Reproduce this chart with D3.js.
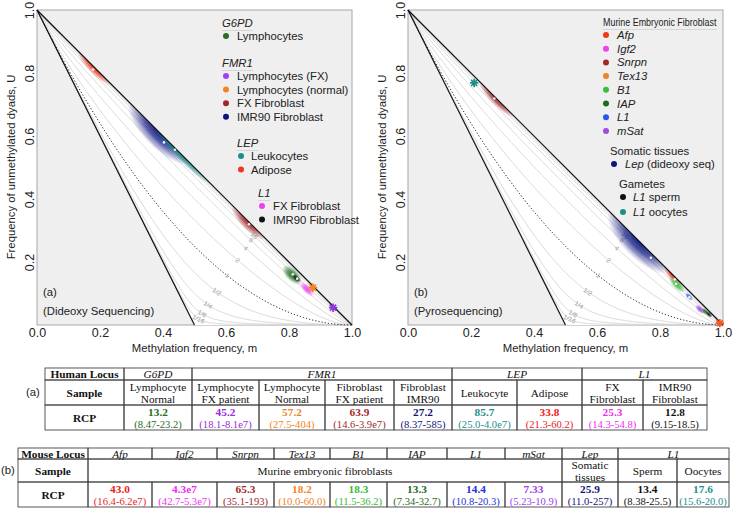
<!DOCTYPE html>
<html><head><meta charset="utf-8">
<script src="https://cdn.jsdelivr.net/npm/d3@7"></script>
<style>body{margin:0;background:#fff}svg{display:block}</style>
</head><body>
<svg id="c" width="735" height="509"></svg>
<script>
// ---------------- data ----------------
const xTicks = [0, 0.2, 0.4, 0.6, 0.8, 1.0];
const yTicks = [0.2, 0.4, 0.6, 0.8, 1.0];
// RCP contour levels (RCP = 2*sqrt(M*U)/H)
const rcpLevels = [1/16, 1/8, 1/4, 1/2, 1, 2, 4, 8, 16, 32, 64, 128];
const rcpLabelLevels = [1/16, 1/8, 1/4, 1/2, 1, 2, 4, 8, 16];
const rcpLabelText = ["1/16", "1/8", "1/4", "1/2", "1", "2", "4", "8", "16"];

// panel (a): point estimates (methylation m, RCP from the table)
const aPointName = ["Adipose", "IMR90 Fibroblast FMR1", "Leukocytes", "FX Fibroblast FMR1", "Lymphocytes G6PD", "FX Fibroblast L1", "IMR90 Fibroblast L1"];
const aPointM   = [0.178, 0.403, 0.438, 0.673, 0.812, 0.852, 0.826];
const aPointRCP = [33.8, 27.2, 85.7, 63.9, 13.2, 25.3, 12.8];
const aStarName = ["Lymphocytes normal", "Lymphocytes FX"];
const aStarM   = [0.876, 0.940];
const aStarRCP = [57.2, 45.2];
const aStarCol = ["#f08424", "#8e3ad8"];
// panel (a): posterior clouds (centre m, centre U, half-length, half-width in m units)
const aBlobM   = [0.184, 0.390, 0.463, 0.673, 0.810, 0.824, 0.857, 0.874, 0.938];
const aBlobU   = [0.816, 0.610, 0.537, 0.327, 0.159, 0.148, 0.114, 0.126, 0.062];
const aBlobLen = [0.075, 0.135, 0.130, 0.075, 0.040, 0.016, 0.030, 0.015, 0.015];
const aBlobWid = [0.020, 0.048, 0.018, 0.026, 0.020, 0.009, 0.013, 0.010, 0.010];
const aBlobCol = ["#f0361c", "#0c1480", "#1b8f8c", "#a3272a", "#257025", "#111111", "#f040ee", "#f08424", "#8e3ad8"];

// panel (b)
const bPointName = ["Snrpn", "Lep", "Afp", "B1", "L1"];
const bPointM   = [0.274, 0.771, 0.847, 0.851, 0.893];
const bPointRCP = [65.3, 25.9, 43.0, 18.3, 14.4];
const bStarName = ["L1 oocytes", "Tex13"];
const bStarM   = [0.210, 0.990];
const bStarRCP = [17.6, 18.2];
const bStarCol = ["#1b8f8c", "#f05a22"];
const bBlobM   = [0.283, 0.735, 0.844, 0.854, 0.892, 0.927, 0.943, 0.955, 0.985];
const bBlobU   = [0.717, 0.265, 0.156, 0.128, 0.090, 0.050, 0.043, 0.034, 0.012];
const bBlobLen = [0.078, 0.135, 0.040, 0.034, 0.016, 0.020, 0.014, 0.014, 0.010];
const bBlobWid = [0.020, 0.052, 0.016, 0.014, 0.008, 0.010, 0.008, 0.007, 0.008];
const bBlobCol = ["#a3272a", "#0c1480", "#e8301e", "#3dbb3d", "#2a55ee", "#a04ce0", "#1d6b1d", "#111111", "#f040ee"];

// legends
const aLegendGroups = [
  {title: "G6PD", items: ["Lymphocytes"], colors: ["#257025"]},
  {title: "FMR1", items: ["Lymphocytes (FX)", "Lymphocytes (normal)", "FX Fibroblast", "IMR90 Fibroblast"], colors: ["#a040f0", "#f08424", "#a3272a", "#0c1480"]},
  {title: "LEP", items: ["Leukocytes", "Adipose"], colors: ["#1b8f8c", "#f0361c"]},
  {title: "L1", items: ["FX Fibroblast", "IMR90 Fibroblast"], colors: ["#f040ee", "#111111"]}
];
const bLegendMEF = ["Afp", "Igf2", "Snrpn", "Tex13", "B1", "IAP", "L1", "mSat"];
const bLegendMEFCol = ["#f0361c", "#f040ee", "#a3272a", "#f08424", "#3dbb3d", "#1d6b1d", "#2a55ee", "#a04ce0"];

// tables
const tAHeader = ["G6PD", "FMR1", "LEP", "L1"];
const tAHeaderSpan = [1, 4, 2, 2];
const tASample = [["Lymphocyte", "Normal"], ["Lymphocyte", "FX patient"], ["Lymphocyte", "Normal"], ["Fibroblast", "FX patient"], ["Fibroblast", "IMR90"], ["Leukocyte"], ["Adipose"], ["FX", "Fibroblast"], ["IMR90", "Fibroblast"]];
const tARCP = ["13.2", "45.2", "57.2", "63.9", "27.2", "85.7", "33.8", "25.3", "12.8"];
const tACI = ["(8.47-23.2)", "(18.1-8.1e7)", "(27.5-404)", "(14.6-3.9e7)", "(8.37-585)", "(25.0-4.0e7)", "(21.3-60.2)", "(14.3-54.8)", "(9.15-18.5)"];
const tACol = ["#1e6e1e", "#9a2be0", "#f08424", "#a3272a", "#12127a", "#1b8f8c", "#f0201a", "#f030ee", "#111111"];

const tBHeader = ["Afp", "Igf2", "Snrpn", "Tex13", "B1", "IAP", "L1", "mSat", "Lep", "L1"];
const tBHeaderSpan = [1, 1, 1, 1, 1, 1, 1, 1, 1, 2];
const tBSample = [["Murine embryonic fibroblasts"], ["Somatic", "tissues"], ["Sperm"], ["Oocytes"]];
const tBSampleSpan = [8, 1, 1, 1];
const tBRCP = ["43.0", "4.3e7", "65.3", "18.2", "18.3", "13.3", "14.4", "7.33", "25.9", "13.4", "17.6"];
const tBCI = ["(16.4-6.2e7)", "(42.7-5.3e7)", "(35.1-193)", "(10.0-60.0)", "(11.5-36.2)", "(7.34-32.7)", "(10.8-20.3)", "(5.23-10.9)", "(11.0-257)", "(8.38-25.5)", "(15.6-20.0)"];
const tBCol = ["#f0201a", "#f030ee", "#a3272a", "#f08424", "#33bb33", "#1e6e1e", "#2233dd", "#a040f0", "#12127a", "#111111", "#1b8f8c"];

// ---------------- helpers ----------------
const svg = d3.select("#c");
const defs = svg.append("defs");
const SANS = "'Liberation Sans', Arial, sans-serif";
const SERIF = "'Liberation Serif', 'Times New Roman', serif";

// U on the contour of constant RCP (RCP^2 = 4MU/H^2) at methylation m
function uOf(m, rcp) {
  const r = rcp * rcp;
  const a = 1 - m;
  if (a <= 0) return 0;
  if (Math.abs(r - 1) < 1e-12) return a * a;
  const A = 1 - r, B = 1 - 2 * a + 2 * r * a, C = -r * a * a;
  const disc = Math.max(0, B * B - 4 * A * C);
  const q = -0.5 * (B + (B >= 0 ? 1 : -1) * Math.sqrt(disc));
  const roots = [q / A, q !== 0 ? C / q : 0];
  const lo = Math.max(0, 1 - 2 * m) - 1e-9, hi = a + 1e-9;
  for (const u of roots) if (u >= lo && u <= hi) return Math.min(Math.max(u, 0), a);
  return roots[0];
}

function star(g, cx, cy, col) {
  const s = 4.2, k = s * 0.72;
  g.append("path")
    .attr("d", `M${cx - s},${cy}L${cx + s},${cy}M${cx},${cy - s}L${cx},${cy + s}M${cx - k},${cy - k}L${cx + k},${cy + k}M${cx - k},${cy + k}L${cx + k},${cy - k}`)
    .attr("stroke", col).attr("stroke-width", 1.7).attr("fill", "none");
}

let gradId = 0;
function drawPanel(x0, id, blobs, pts, stars, lab1, lab2) {
  const x = d3.scaleLinear().domain([0, 1]).range([x0, x0 + 315]);
  const y = d3.scaleLinear().domain([0, 1]).range([325, 10]);
  const g = svg.append("g");
  g.append("rect").attr("x", x(0)).attr("y", y(1)).attr("width", x(1) - x(0)).attr("height", y(0) - y(1))
    .attr("fill", "#efefef").attr("stroke", "#a8a8a8").attr("stroke-width", 1);
  const tri = [[0, 1], [1, 0], [0.5, 0]];
  const triPath = "M" + tri.map(p => x(p[0]) + "," + y(p[1])).join("L") + "Z";
  g.append("path").attr("d", triPath).attr("fill", "#fff");
  defs.append("clipPath").attr("id", "clip" + id).append("path").attr("d", triPath);

  // contours
  const ms = d3.range(0, 1.00001, 0.002);
  const line = d3.line().x(d => x(d[0])).y(d => y(d[1]));
  const cg = g.append("g").attr("clip-path", `url(#clip${id})`);
  rcpLevels.forEach(r => {
    if (r === 1) return;
    cg.append("path").attr("d", line(ms.map(m => [m, uOf(m, r)])))
      .attr("fill", "none").attr("stroke", "#cdcdcd").attr("stroke-width", 0.8);
  });
  // contour labels
  rcpLabelLevels.forEach((r, i) => {
    const f = t => uOf(0.5 + 0.2 * t, r) - 0.3 * t;
    let lo = 0.0001, hi = 0.9999;
    for (let k = 0; k < 50; k++) { const mid = (lo + hi) / 2; if (f(mid) > 0) lo = mid; else hi = mid; }
    const m = 0.5 + 0.2 * lo, u = uOf(m, r);
    const m2 = m + 0.01, u2 = uOf(m2, r);
    const ang = Math.atan2(y(u2) - y(u), x(m2) - x(m)) * 180 / Math.PI;
    g.append("text").attr("transform", `translate(${x(m)},${y(u)}) rotate(${ang})`)
      .attr("text-anchor", "middle").attr("dy", "0.35em")
      .attr("font-family", SANS).attr("font-size", 6.5).attr("fill", "#9a9a9a").text(rcpLabelText[i]);
  });

  // posterior clouds
  const bg = g.append("g").attr("clip-path", `url(#clip${id})`);
  blobs.m.forEach((m, i) => {
    const gid = "gr" + (gradId++);
    const rg = defs.append("radialGradient").attr("id", gid);
    rg.append("stop").attr("offset", "0%").attr("stop-color", blobs.col[i]).attr("stop-opacity", 0.95);
    rg.append("stop").attr("offset", "45%").attr("stop-color", blobs.col[i]).attr("stop-opacity", 0.7);
    rg.append("stop").attr("offset", "100%").attr("stop-color", blobs.col[i]).attr("stop-opacity", 0);
    const rx = x(blobs.len[i]) - x(0), ry = x(blobs.wid[i]) - x(0);
    bg.append("ellipse").attr("transform", `translate(${x(m)},${y(blobs.u[i])}) rotate(45)`)
      .attr("rx", rx).attr("ry", ry).attr("fill", `url(#${gid})`);
  });

  // dotted RCP = 1 curve and boundaries
  g.append("path").attr("d", line(ms.map(m => [m, uOf(m, 1)])))
    .attr("fill", "none").attr("stroke", "#111").attr("stroke-width", 1).attr("stroke-dasharray", "1.2,2");
  g.append("path").attr("d", line([[0, 1], [1, 0]])).attr("stroke", "#111").attr("stroke-width", 1.2).attr("fill", "none");
  g.append("path").attr("d", line([[0, 1], [0.5, 0]])).attr("stroke", "#111").attr("stroke-width", 1.2).attr("fill", "none");

  pts.m.forEach((m, i) => {
    g.append("circle").attr("cx", x(m)).attr("cy", y(uOf(m, pts.rcp[i]))).attr("r", 1.3).attr("fill", "#fff").attr("opacity", 0.9);
  });
  stars.m.forEach((m, i) => star(g, x(m), y(uOf(m, stars.rcp[i])), stars.col[i]));

  // axes
  const ax = g.append("g").attr("transform", `translate(0,${y(0)})`)
    .call(d3.axisBottom(x).tickValues(xTicks).tickFormat(d3.format(".1f")).tickSize(0).tickPadding(3.5));
  ax.select(".domain").remove();
  ax.selectAll("text").attr("font-family", SANS).attr("font-size", 12.5).attr("fill", "#222");
  const ay = g.append("g").attr("transform", `translate(${x(0)},0)`)
    .call(d3.axisLeft(y).tickValues(yTicks).tickFormat(d3.format(".1f")).tickSize(0));
  ay.select(".domain").remove();
  ay.selectAll("text").attr("x", null).attr("dy", null).attr("y", -3.5)
    .attr("transform", "rotate(-90)").attr("text-anchor", "middle")
    .attr("font-family", SANS).attr("font-size", 12.5).attr("fill", "#222");

  g.append("text").attr("x", (x(0) + x(1)) / 2).attr("y", 352).attr("text-anchor", "middle")
    .attr("font-family", SANS).attr("font-size", 11.3).attr("fill", "#222").text("Methylation frequency, m");
  g.append("text").attr("transform", `translate(${x0 - 22},167) rotate(-90)`).attr("text-anchor", "middle")
    .attr("font-family", SANS).attr("font-size", 11.3).attr("fill", "#222").text("Frequency of unmethylated dyads, U");
  g.append("text").attr("x", x0 + 6).attr("y", 296).attr("font-family", SANS).attr("font-size", 11.3).attr("fill", "#222").text(lab1);
  g.append("text").attr("x", x0 + 6).attr("y", 315).attr("font-family", SANS).attr("font-size", 11.3).attr("fill", "#222").text(lab2);
  return g;
}

const gA = drawPanel(37, "a",
  {m: aBlobM, u: aBlobU, len: aBlobLen, wid: aBlobWid, col: aBlobCol},
  {m: aPointM, rcp: aPointRCP}, {m: aStarM, rcp: aStarRCP, col: aStarCol},
  "(a)", "(Dideoxy Sequencing)");
const gB = drawPanel(408, "b",
  {m: bBlobM, u: bBlobU, len: bBlobLen, wid: bBlobWid, col: bBlobCol},
  {m: bPointM, rcp: bPointRCP}, {m: bStarM, rcp: bStarRCP, col: bStarCol},
  "(b)", "(Pyrosequencing)");

// ---------------- legends ----------------
function legHeader(g, tx, ty, txt, italic, sx) {
  const t = g.append("text").attr("transform", `translate(${tx},${ty}) scale(${sx || 1},1)`)
    .attr("font-family", SANS).attr("font-size", 11.3)
    .attr("fill", "#222").attr("font-style", italic ? "italic" : null).text(txt);
  const bw = t.node().getComputedTextLength() * (sx || 1);
  g.append("line").attr("x1", tx).attr("x2", tx + bw).attr("y1", ty + 3.5).attr("y2", ty + 3.5).attr("stroke", "#cfcfcf").attr("stroke-width", 0.8);
}
function legItem(g, dx, tx, ty, col, parts) {
  g.append("circle").attr("cx", dx).attr("cy", ty - 4).attr("r", 3).attr("fill", col);
  const t = g.append("text").attr("x", tx).attr("y", ty).attr("font-family", SANS).attr("font-size", 11.3).attr("fill", "#222");
  parts.forEach(p => t.append("tspan").attr("font-style", p[1] ? "italic" : null).text(p[0]));
}
{
  const hx = [222, 222, 237, 258], dxs = [226, 226, 241, 262], txs = [237, 237, 251, 273];
  const hy = [27, 67, 147, 197];
  aLegendGroups.forEach((grp, gi) => {
    legHeader(gA, hx[gi], hy[gi], grp.title, true);
    grp.items.forEach((it, k) => legItem(gA, dxs[gi], txs[gi], hy[gi] + 13 + k * 13.6, grp.colors[k], [[it, false]]));
  });
  legHeader(gB, 603, 26, "Murine Embryonic Fibroblast", false, 0.79);
  bLegendMEF.forEach((it, k) => legItem(gB, 606, 617, 39 + k * 13.7, bLegendMEFCol[k], [[it, true]]));
  gB.append("text").attr("x", 610).attr("y", 155).attr("font-family", SANS).attr("font-size", 11.3).attr("fill", "#222").text("Somatic tissues");
  legItem(gB, 614, 625, 168, "#0c1480", [["Lep", true], [" (dideoxy seq)", false]]);
  gB.append("text").attr("x", 619).attr("y", 188).attr("font-family", SANS).attr("font-size", 11.3).attr("fill", "#222").text("Gametes");
  legItem(gB, 623, 633, 201, "#111111", [["L1", true], [" sperm", false]]);
  legItem(gB, 623, 633, 216, "#1b8f8c", [["L1", true], [" oocytes", false]]);
}

// ---------------- tables ----------------
function cellText(g, x0, x1, yTop, h, lines, opts) {
  const n = lines.length, lh = 12;
  const cy = yTop + h / 2;
  lines.forEach((ln, k) => {
    const isCI = opts.boldFirstOnly && k === 1;
    g.append("text").attr("x", (x0 + x1) / 2).attr("y", cy + (k - (n - 1) / 2) * lh + 4)
      .attr("text-anchor", "middle").attr("font-family", SERIF).attr("font-size", isCI ? 10.6 : 11.3)
      .attr("font-weight", (opts.bold && (opts.boldFirstOnly ? k === 0 : true)) ? "bold" : null)
      .attr("font-style", opts.italic ? "italic" : null)
      .attr("fill", opts.color || "#111").text(ln);
  });
}
function cellRect(g, x0, x1, y0, y1) {
  g.append("rect").attr("x", x0).attr("y", y0).attr("width", x1 - x0).attr("height", y1 - y0)
    .attr("fill", "none").attr("stroke", "#444").attr("stroke-width", 0.9);
}
function drawTable(edges, rowsY, label, labelX, labelY, rows) {
  const g = svg.append("g");
  rows.forEach((row, ri) => {
    let c = 0;
    row.forEach(cell => {
      const span = cell.span || 1;
      const x0 = edges[c], x1 = edges[c + span];
      cellRect(g, x0, x1, rowsY[ri], rowsY[ri + 1]);
      cellText(g, x0, x1, rowsY[ri], rowsY[ri + 1] - rowsY[ri], cell.lines, cell);
      c += span;
    });
  });
  g.append("text").attr("x", labelX).attr("y", labelY)
    .attr("font-family", SANS).attr("font-size", 11.3).attr("fill", "#222").text(label);
}
{
  const edges = [45, 124, 192, 259, 325, 394, 452, 517, 582, 643, 707];
  const r1 = [{lines: ["Human Locus"], bold: true}].concat(tAHeader.map((h, i) => ({lines: [h], italic: true, span: tAHeaderSpan[i]})));
  const r2 = [{lines: ["Sample"], bold: true}].concat(tASample.map(s => ({lines: s})));
  const r3 = [{lines: ["RCP"], bold: true}].concat(tARCP.map((v, i) => ({lines: [v, tACI[i]], bold: true, boldFirstOnly: true, color: tACol[i]})));
  drawTable(edges, [368, 380, 405, 430], "(a)", 26, 396, [r1, r2, r3]);
}
{
  const edges = [18, 88, 152, 217, 274, 330, 387, 447, 505, 562, 618, 677, 729];
  const r1 = [{lines: ["Mouse Locus"], bold: true}].concat(tBHeader.map((h, i) => ({lines: [h], italic: true, span: tBHeaderSpan[i]})));
  const r2 = [{lines: ["Sample"], bold: true}].concat(tBSample.map((s, i) => ({lines: s, span: tBSampleSpan[i]})));
  const r3 = [{lines: ["RCP"], bold: true}].concat(tBRCP.map((v, i) => ({lines: [v, tBCI[i]], bold: true, boldFirstOnly: true, color: tBCol[i]})));
  drawTable(edges, [448, 459, 482, 507], "(b)", 1, 474, [r1, r2, r3]);
}
</script>
</body></html>
